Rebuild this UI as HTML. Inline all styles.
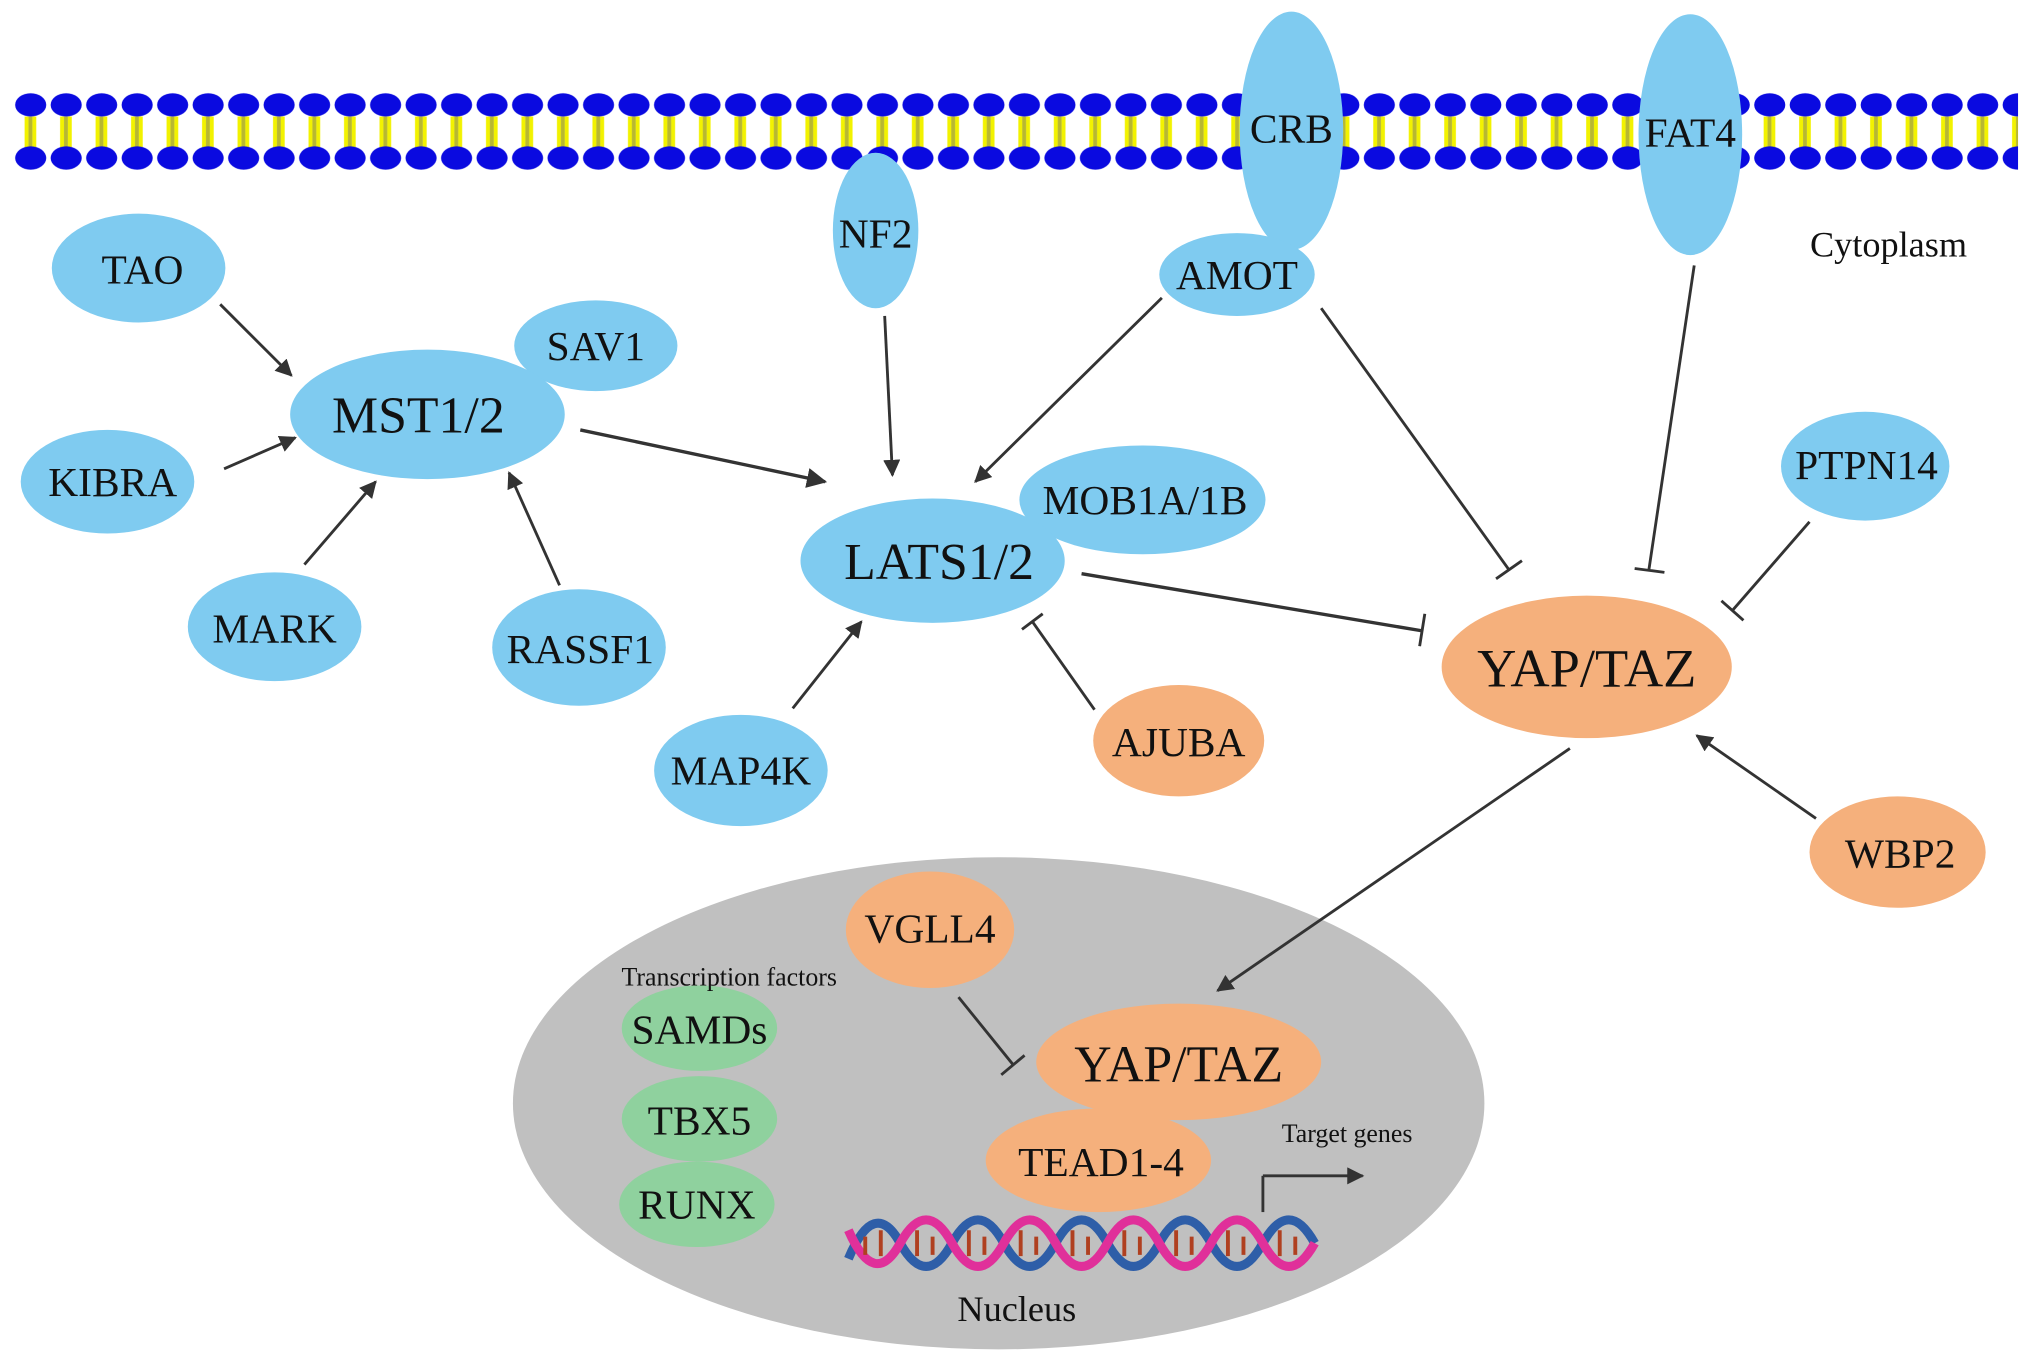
<!DOCTYPE html>
<html><head><meta charset="utf-8"><style>html,body{margin:0;padding:0;background:#fff}svg{display:block}</style></head>
<body>
<svg width="2031" height="1361" viewBox="0 0 1568 1051" preserveAspectRatio="none" xmlns="http://www.w3.org/2000/svg" font-family="Liberation Serif, serif">
<defs>
<pattern id="mem" x="10" y="0" width="27.4" height="140" patternUnits="userSpaceOnUse">
<rect x="9" y="90" width="3" height="24" fill="#f2f200"/>
<rect x="15" y="90" width="3" height="24" fill="#f2f200"/>
<rect x="12" y="90" width="3" height="24" fill="#b8b830"/>
<ellipse cx="13.7" cy="81" rx="12" ry="9" fill="#0a0ae0"/>
<ellipse cx="13.7" cy="122" rx="12" ry="9" fill="#0a0ae0"/>
</pattern>
<marker id="ar" viewBox="0 0 10 10" refX="9" refY="5" markerWidth="6" markerHeight="6" orient="auto"><path d="M0,0 L10,5 L0,10 z" fill="#333"/></marker>
</defs>
<rect x="10" y="68" width="1548" height="66" fill="url(#mem)"/>
<g fill="#7fcbf0">
<ellipse cx="997" cy="101" rx="40" ry="92"/>
<ellipse cx="1305" cy="104" rx="40" ry="93"/>
<ellipse cx="676" cy="178" rx="33" ry="60"/>
<ellipse cx="955" cy="212" rx="60" ry="32"/>
<ellipse cx="107" cy="207" rx="67" ry="42"/>
<ellipse cx="460" cy="267" rx="63" ry="35"/>
<ellipse cx="330" cy="320" rx="106" ry="50"/>
<ellipse cx="83" cy="372" rx="67" ry="40"/>
<ellipse cx="212" cy="484" rx="67" ry="42"/>
<ellipse cx="447" cy="500" rx="67" ry="45"/>
<ellipse cx="882" cy="386" rx="95" ry="42"/>
<ellipse cx="720" cy="433" rx="102" ry="48"/>
<ellipse cx="1440" cy="360" rx="65" ry="42"/>
<ellipse cx="572" cy="595" rx="67" ry="43"/>
</g>
<g fill="#f5b07c">
<ellipse cx="1225" cy="515" rx="112" ry="55"/>
<ellipse cx="910" cy="572" rx="66" ry="43"/>
<ellipse cx="1465" cy="658" rx="68" ry="43"/>
</g>
<ellipse cx="771" cy="852" rx="375" ry="190" fill="#c0c0c0"/>
<g fill="#f5b07c">
<ellipse cx="718" cy="718" rx="65" ry="45"/>
<ellipse cx="910" cy="820" rx="110" ry="45"/>
<ellipse cx="848" cy="896" rx="87" ry="40"/>
</g>
<g fill="#8fd19e">
<ellipse cx="540" cy="794" rx="60" ry="33"/>
<ellipse cx="540" cy="864" rx="60" ry="33"/>
<ellipse cx="538" cy="930" rx="60" ry="33"/>
</g>
<!-- DNA -->
<g stroke-width="7" fill="none">
<path d="M655 972 Q675 924 695 960 T735 960 T775 960 T815 960 T855 960 T895 960 T935 960 T975 960 T1015 960" stroke="#2e5ea8"/>
<path d="M655 950 Q675 996 695 960 T735 960 T775 960 T815 960 T855 960 T895 960 T935 960 T975 960 T1015 960" stroke="#e0309a"/>
</g>
<g stroke="#b04020" stroke-width="3">
<path d="M668 955v14M680 950v20M708 950v20M720 955v14M748 950v20M760 955v14M788 950v20M800 955v14M828 950v20M840 955v14M868 950v20M880 955v14M908 950v20M920 955v14M948 950v20M960 955v14M988 950v20M1000 955v14"/>
</g>
<!-- connectors -->
<g stroke="#333" stroke-width="2.2" fill="none">
<line x1="170" y1="235" x2="225" y2="290" marker-end="url(#ar)"/>
<line x1="173" y1="362" x2="228" y2="338" marker-end="url(#ar)"/>
<line x1="235" y1="436" x2="290" y2="372" marker-end="url(#ar)"/>
<line x1="432" y1="452" x2="393" y2="365" marker-end="url(#ar)"/>
<line x1="448" y1="332" x2="637" y2="372" marker-end="url(#ar)" stroke-width="2.6"/>
<line x1="683" y1="244" x2="689" y2="367" marker-end="url(#ar)"/>
<line x1="897" y1="230" x2="753" y2="372" marker-end="url(#ar)"/>
<line x1="612" y1="547" x2="665" y2="480" marker-end="url(#ar)"/>
<line x1="1402" y1="632" x2="1310" y2="568" marker-end="url(#ar)"/>
<line x1="1212" y1="578" x2="940" y2="765" marker-end="url(#ar)"/>
<line x1="975" y1="936" x2="975" y2="908"/>
<line x1="975" y1="908" x2="1052" y2="908" marker-end="url(#ar)"/>
<line x1="845" y1="548" x2="797" y2="480"/><line x1="789" y1="486" x2="805" y2="474"/>
<line x1="835" y1="443" x2="1097" y2="487" stroke-width="2.6"/><line x1="1100" y1="474" x2="1096" y2="499"/>
<line x1="1020" y1="238" x2="1165" y2="440"/><line x1="1155" y1="447" x2="1175" y2="433"/>
<line x1="1308" y1="205" x2="1273" y2="440"/><line x1="1262" y1="439" x2="1285" y2="442"/>
<line x1="1397" y1="403" x2="1337" y2="472"/><line x1="1329" y1="464" x2="1346" y2="479"/>
<line x1="740" y1="770" x2="782" y2="822"/><line x1="773" y1="830" x2="791" y2="815"/>
</g>
<g font-size="32" text-anchor="middle" fill="#111">
<text x="997" y="110">CRB</text>
<text x="1305" y="113">FAT4</text>
<text x="676" y="191">NF2</text>
<text x="955" y="223">AMOT</text>
<text x="110" y="219">TAO</text>
<text x="460" y="278">SAV1</text>
<text x="323" y="334" font-size="40">MST1/2</text>
<text x="87" y="383">KIBRA</text>
<text x="212" y="496">MARK</text>
<text x="448" y="512">RASSF1</text>
<text x="884" y="397">MOB1A/1B</text>
<text x="725" y="447" font-size="40">LATS1/2</text>
<text x="1441" y="370">PTPN14</text>
<text x="1225" y="530" font-size="42">YAP/TAZ</text>
<text x="910" y="584">AJUBA</text>
<text x="572" y="606">MAP4K</text>
<text x="1467" y="670">WBP2</text>
<text x="718" y="728">VGLL4</text>
<text x="540" y="806">SAMDs</text>
<text x="540" y="876">TBX5</text>
<text x="538" y="941">RUNX</text>
<text x="910" y="835" font-size="40">YAP/TAZ</text>
<text x="850" y="908">TEAD1-4</text>
<text x="785" y="1020" font-size="28">Nucleus</text>
<text x="1458" y="198" font-size="28">Cytoplasm</text>
<text x="563" y="761" font-size="20">Transcription factors</text>
<text x="1040" y="882" font-size="20">Target genes</text>
</g>
</svg>
</body></html>
